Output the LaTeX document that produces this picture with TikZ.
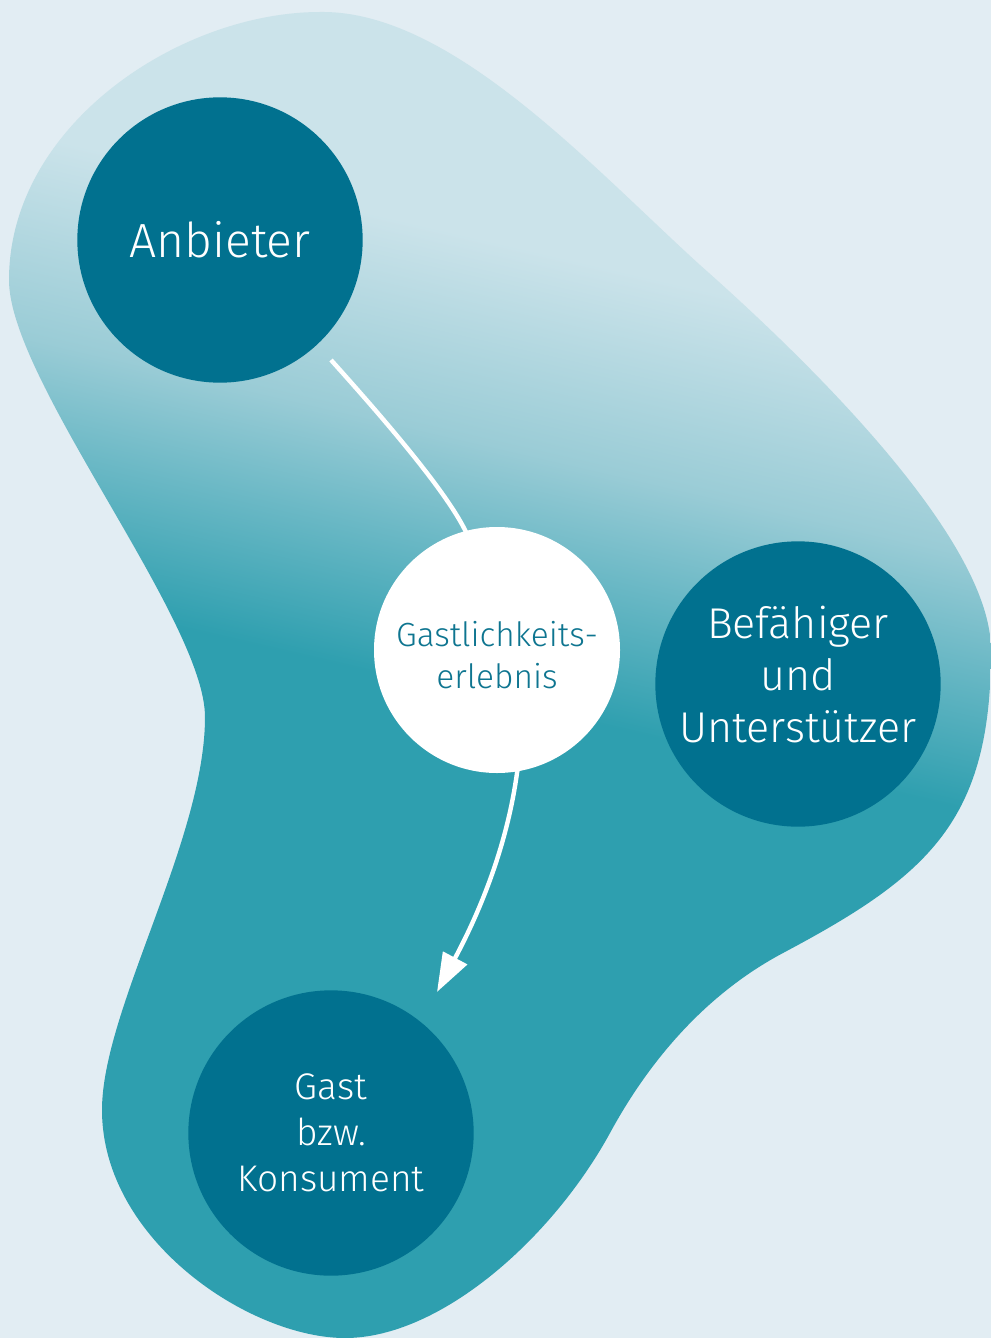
\documentclass[tikz,border=0pt]{standalone}
\usepackage{fontspec}
\setmainfont{Fira Sans}[UprightFont={* Light}]
\usetikzlibrary{arrows.meta,calc}

\definecolor{bg}{HTML}{E2EDF3}
\definecolor{blobLight}{HTML}{CBE3EA}
\definecolor{blobMidA}{HTML}{9ACCD6}
\definecolor{blobMidB}{HTML}{6AB8C5}
\definecolor{blobDark}{HTML}{2E9FAF}
\definecolor{actor}{HTML}{01718F}
\definecolor{expText}{HTML}{0E7590}

% light at the top, deep teal towards the bottom
\pgfdeclareverticalshading{blobfade}{100bp}{%
  color(0bp)=(blobDark); color(50bp)=(blobDark);
  color(54.4bp)=(blobMidB); color(57.8bp)=(blobMidA);
  color(64bp)=(blobLight); color(100bp)=(blobLight)}

% outline of the organic background shape
\newcommand\blobpath{(9,280)
  .. controls (9,125) and (180,12) .. (320,12)
  .. controls (450,10) and (590,165) .. (700,265)
  .. controls (812,364) and (991,540) .. (991,650)
  .. controls (991,820) and (930,875) .. (783,953)
  .. controls (704,995) and (648,1063) .. (610,1133)
  .. controls (552,1239) and (440,1338) .. (345,1338)
  .. controls (250,1338) and (102,1240) .. (102,1110)
  .. controls (102,1010) and (205,840) .. (205,717)
  .. controls (205,620) and (9,380) .. (9,280) -- cycle}

% centred stack of lines, drawn shifted by #1 while keeping its box
\newcommand\linestack[2]{\raisebox{#1}[\height][\depth]{%
  \begin{tabular}{@{}c@{}}#2\end{tabular}}}

\begin{document}
\begin{tikzpicture}[x=0.75pt, y=-0.75pt,
  actorbox/.style={circle, fill=actor, text=white, align=center,
    inner sep=0pt, minimum size=214pt},
  expbox/.style={circle, fill=white, text=expText, align=center,
    inner sep=0pt, minimum size=184.5pt},
  flow/.style={white, line width=3.3pt,
    -{Triangle[length=29pt, width=20pt]}}]

\useasboundingbox (0,0) rectangle (991,1338);
\fill[bg] (0,0) rectangle (991,1338);

% the shaded blob
\begin{scope}
  \clip \blobpath;
  \begin{scope}[transform canvas={rotate around={-13:(495,670)}}]
    \shade[overlay, shading=blobfade] (-400,-100) rectangle (1400,1500);
  \end{scope}
\end{scope}

% the three actors
\node[actorbox, font=\fontsize{36}{44}\selectfont] (anb) at (220,240) {Anbieter};
\node[actorbox, font=\fontsize{32.3}{39}\selectfont] (bef) at (798,684)
  {\linestack{3pt}{Befähiger\\und\\Unterstützer}};
\node[actorbox, font=\fontsize{27.8}{34.5}\selectfont] (gast) at (331,1133)
  {Gast\\bzw.\\Konsument};

% the flow from provider to guest
\coordinate (flowStart) at ($(anb)+(111,120)$);
\coordinate (flowEnd) at ($(gast)+(106,-141)$);
\draw[flow] (flowStart) .. controls (385,420) and (445,490) .. (465,530)
  .. controls (520,640) and (530,700) .. (517,773)
  .. controls (505,860) and (470,930) .. (flowEnd);

% the experience in the middle
\node[expbox, font=\fontsize{25.1}{31.5}\selectfont] (erl) at (497,650)
  {\linestack{-7pt}{Gastlichkeits-\\erlebnis}};
\end{tikzpicture}
\end{document}
